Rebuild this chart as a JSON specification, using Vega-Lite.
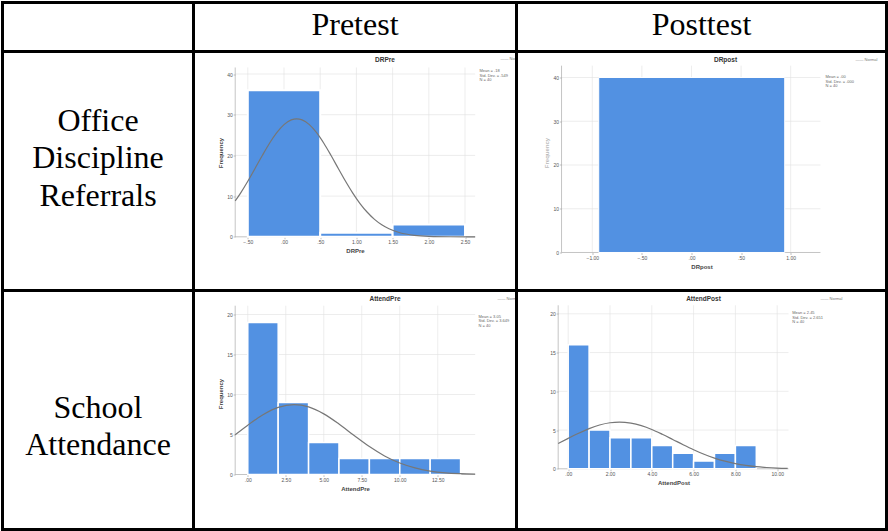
{
  "$schema": "https://vega.github.io/schema/vega-lite/v6.json",
  "background": "white",
  "padding": {"left": 0.5, "top": 0.5, "right": 0, "bottom": 0},
  "autosize": {"type": "pad"},
  "columns": 3,
  "spacing": 0,
  "bounds": "flush",
  "config": {
    "view": {"stroke": "black", "strokeWidth": 3, "fill": "white"},
    "axis": {"domain": false, "grid": false, "ticks": true, "tickSize": 2, "tickColor": "#999999", "tickWidth": 0.6, "labelFontSize": 5, "labelColor": "#555555", "labelFont": "Liberation Sans", "labelPadding": 1, "titleFontSize": 6, "titleFont": "Liberation Sans", "titleFontWeight": "bold", "titleColor": "#444444", "titlePadding": 3},
    "title": {"font": "Liberation Sans", "fontSize": 6.5, "fontWeight": "bold", "color": "#333333", "anchor": "middle"}
  },
  "concat": [
    {"width": 191, "height": 49, "view": {"stroke": "black", "strokeWidth": 3, "fill": "white"}, "data": {"values": [{"label": ""}]}, "mark": {"type": "text", "font": "Liberation Serif", "fontSize": 32}, "encoding": {"text": {"field": "label"}}},
    {"width": 323, "height": 49, "view": {"stroke": "black", "strokeWidth": 3, "fill": "white"}, "data": {"values": [{"label": "Pretest"}]}, "mark": {"type": "text", "font": "Liberation Serif", "fontSize": 32, "baseline": "alphabetic", "dy": 8, "color": "black"}, "encoding": {"text": {"field": "label"}}},
    {"width": 370, "height": 49, "view": {"stroke": "black", "strokeWidth": 3, "fill": "white"}, "data": {"values": [{"label": "Posttest"}]}, "mark": {"type": "text", "font": "Liberation Serif", "fontSize": 32, "baseline": "alphabetic", "dy": 8, "color": "black"}, "encoding": {"text": {"field": "label"}}},
    {"width": 191, "height": 239, "view": {"stroke": "black", "strokeWidth": 3, "fill": "white"}, "data": {"values": [{"label": "Office\nDiscipline\nReferrals"}]}, "mark": {"type": "text", "font": "Liberation Serif", "fontSize": 32, "baseline": "alphabetic", "lineBreak": "\n", "lineHeight": 37.5, "dy": -40.5, "color": "black"}, "encoding": {"text": {"field": "label"}}},
    {
      "width": 323, "height": 239,
      "title": {"text": "DRPre", "offset": -12, "dx": 30},
      "layer": [
        {"data": {"values": [{"x": -0.5}, {"x": 0}, {"x": 0.5}, {"x": 1}, {"x": 1.5}, {"x": 2}, {"x": 2.5}]},
         "mark": {"type": "rule", "color": "#e0e0e0", "strokeWidth": 0.6},
         "encoding": {"x": {"field": "x", "type": "quantitative"}, "y": {"datum": 0, "type": "quantitative"}, "y2": {"datum": 41.6}}},
        {"data": {"values": [{"y": 10}, {"y": 20}, {"y": 30}, {"y": 40}]},
         "mark": {"type": "rule", "color": "#e0e0e0", "strokeWidth": 0.6},
         "encoding": {"y": {"field": "y", "type": "quantitative"}, "x": {"datum": -0.674, "type": "quantitative"}, "x2": {"datum": 2.64}}},
        {"data": {"values": [{}]},
         "mark": {"type": "rule", "color": "#aaaaaa", "strokeWidth": 0.7},
         "encoding": {"x": {"datum": -0.674, "type": "quantitative"}, "x2": {"datum": 2.64}, "y": {"datum": 0, "type": "quantitative"}}},
        {"data": {"values": [{}]},
         "mark": {"type": "rule", "color": "#aaaaaa", "strokeWidth": 0.7},
         "encoding": {"x": {"datum": -0.674, "type": "quantitative"}, "y": {"datum": 0, "type": "quantitative"}, "y2": {"datum": 41.6}}},
        {"data": {"values": [{"x": -0.5, "x2": 0.5, "n": 36}, {"x": 0.5, "x2": 1.5, "n": 1}, {"x": 1.5, "x2": 2.5, "n": 3}]},
         "mark": {"type": "rect", "fill": "#5291e2", "stroke": "white", "strokeWidth": 2},
         "encoding": {
           "x": {"field": "x", "type": "quantitative", "scale": {"domain": [-1.25, 3.211], "nice": false, "zero": false}, "axis": {"values": [-0.5, 0, 0.5, 1, 1.5, 2, 2.5], "labelExpr": "abs(datum.value) < 1 ? replace(format(datum.value, '.2f'), '0.', '.') : format(datum.value, '.2f')", "offset": -53.7, "title": "DRPre"}},
           "x2": {"field": "x2"},
           "y": {"field": "n", "type": "quantitative", "scale": {"domain": [-13.19, 45.53], "nice": false, "zero": false}, "axis": {"values": [0, 10, 20, 30, 40], "offset": -41.7, "title": "Frequency", "titleY": 101}},
           "y2": {"datum": 0}
         }},
        {"data": {"values": [{"x": -0.674, "y": 8.81}, {"x": -0.6, "y": 10.75}, {"x": -0.5, "y": 13.66}, {"x": -0.4, "y": 16.79}, {"x": -0.3, "y": 19.97}, {"x": -0.2, "y": 22.99}, {"x": -0.1, "y": 25.59}, {"x": 0.0, "y": 27.57}, {"x": 0.1, "y": 28.73}, {"x": 0.175, "y": 29.0}, {"x": 0.25, "y": 28.73}, {"x": 0.35, "y": 27.57}, {"x": 0.45, "y": 25.59}, {"x": 0.55, "y": 22.99}, {"x": 0.65, "y": 19.97}, {"x": 0.75, "y": 16.79}, {"x": 0.85, "y": 13.66}, {"x": 0.95, "y": 10.75}, {"x": 1.05, "y": 8.18}, {"x": 1.15, "y": 6.03}, {"x": 1.25, "y": 4.29}, {"x": 1.35, "y": 2.96}, {"x": 1.45, "y": 1.98}, {"x": 1.6, "y": 1.01}, {"x": 1.8, "y": 0.37}, {"x": 2.0, "y": 0.12}, {"x": 2.3, "y": 0.02}, {"x": 2.64, "y": 0.0}]},
         "mark": {"type": "line", "color": "#777777", "strokeWidth": 1.2, "interpolate": "monotone"},
         "encoding": {"x": {"field": "x", "type": "quantitative"}, "y": {"field": "y", "type": "quantitative"}}},
        {"data": {"values": [{"t": "Mean = .18\nStd. Dev. = .549\nN = 40"}]},
         "mark": {"type": "text", "align": "left", "baseline": "top", "fontSize": 4, "lineHeight": 4.5, "lineBreak": "\n", "color": "#666666", "font": "Liberation Sans", "clip": true},
         "encoding": {"x": {"datum": 2.70, "type": "quantitative"}, "y": {"datum": 41.2, "type": "quantitative"}, "text": {"field": "t"}}},
        {"data": {"values": [{"t": "—— Normal"}]},
         "mark": {"type": "text", "align": "left", "baseline": "middle", "fontSize": 4, "color": "#777777", "font": "Liberation Sans", "clip": true},
         "encoding": {"x": {"datum": 2.99, "type": "quantitative"}, "y": {"datum": 43.8, "type": "quantitative"}, "text": {"field": "t"}}}
      ]
    },
    {
      "width": 370, "height": 239,
      "title": {"text": "DRpost", "offset": -12, "dx": 24},
      "layer": [
        {"data": {"values": [{"x": -1}, {"x": -0.5}, {"x": 0}, {"x": 0.5}, {"x": 1}]},
         "mark": {"type": "rule", "color": "#e0e0e0", "strokeWidth": 0.6},
         "encoding": {"x": {"field": "x", "type": "quantitative"}, "y": {"datum": 0, "type": "quantitative"}, "y2": {"datum": 42.7}}},
        {"data": {"values": [{"y": 10}, {"y": 20}, {"y": 30}, {"y": 40}]},
         "mark": {"type": "rule", "color": "#e0e0e0", "strokeWidth": 0.6},
         "encoding": {"y": {"field": "y", "type": "quantitative"}, "x": {"datum": -1.31, "type": "quantitative"}, "x2": {"datum": 1.30}}},
        {"data": {"values": [{}]},
         "mark": {"type": "rule", "color": "#aaaaaa", "strokeWidth": 0.7},
         "encoding": {"x": {"datum": -1.31, "type": "quantitative"}, "x2": {"datum": 1.30}, "y": {"datum": 0, "type": "quantitative"}}},
        {"data": {"values": [{}]},
         "mark": {"type": "rule", "color": "#aaaaaa", "strokeWidth": 0.7},
         "encoding": {"x": {"datum": -1.31, "type": "quantitative"}, "y": {"datum": 0, "type": "quantitative"}, "y2": {"datum": 42.7}}},
        {"data": {"values": [{"x": -0.935, "x2": 0.94, "n": 40}]},
         "mark": {"type": "rect", "fill": "#5291e2", "stroke": "white", "strokeWidth": 1},
         "encoding": {
           "x": {"field": "x", "type": "quantitative", "scale": {"domain": [-1.764, 1.966], "nice": false, "zero": false}, "axis": {"values": [-1, -0.5, 0, 0.5, 1], "labelExpr": "abs(datum.value) < 1 ? replace(format(datum.value, '.2f'), '0.', '.') : format(datum.value, '.2f')", "offset": -38, "title": "DRpost"}},
           "x2": {"field": "x2"},
           "y": {"field": "n", "type": "quantitative", "scale": {"domain": [-8.686, 45.94], "nice": false, "zero": false}, "axis": {"values": [0, 10, 20, 30, 40], "offset": -45, "title": "Frequency", "titleY": 101, "titleColor": "#bbbbbb"}},
           "y2": {"datum": 0}
         }},
        {"data": {"values": [{"t": "Mean = .00\nStd. Dev. = .000\nN = 40"}]},
         "mark": {"type": "text", "align": "left", "baseline": "top", "fontSize": 4, "lineHeight": 4.5, "lineBreak": "\n", "color": "#666666", "font": "Liberation Sans", "clip": true},
         "encoding": {"x": {"datum": 1.351, "type": "quantitative"}, "y": {"datum": 40.5, "type": "quantitative"}, "text": {"field": "t"}}},
        {"data": {"values": [{"t": "—— Normal"}]},
         "mark": {"type": "text", "align": "left", "baseline": "middle", "fontSize": 4, "color": "#777777", "font": "Liberation Sans", "clip": true},
         "encoding": {"x": {"datum": 1.653, "type": "quantitative"}, "y": {"datum": 43.9, "type": "quantitative"}, "text": {"field": "t"}}}
      ]
    },
    {"width": 191, "height": 239, "view": {"stroke": "black", "strokeWidth": 3, "fill": "white"}, "data": {"values": [{"label": "School\nAttendance"}]}, "mark": {"type": "text", "font": "Liberation Serif", "fontSize": 32, "baseline": "alphabetic", "lineBreak": "\n", "lineHeight": 37, "dy": 7.5, "color": "black"}, "encoding": {"text": {"field": "label"}}},
    {
      "width": 323, "height": 239,
      "title": {"text": "AttendPre", "offset": -12, "dx": 30},
      "layer": [
        {"data": {"values": [{"x": 0}, {"x": 2.5}, {"x": 5}, {"x": 7.5}, {"x": 10}, {"x": 12.5}]},
         "mark": {"type": "rule", "color": "#e0e0e0", "strokeWidth": 0.6},
         "encoding": {"x": {"field": "x", "type": "quantitative"}, "y": {"datum": 0, "type": "quantitative"}, "y2": {"datum": 21.1}}},
        {"data": {"values": [{"y": 5}, {"y": 10}, {"y": 15}, {"y": 20}]},
         "mark": {"type": "rule", "color": "#e0e0e0", "strokeWidth": 0.6},
         "encoding": {"y": {"field": "y", "type": "quantitative"}, "x": {"datum": -0.83, "type": "quantitative"}, "x2": {"datum": 14.96}}},
        {"data": {"values": [{}]},
         "mark": {"type": "rule", "color": "#aaaaaa", "strokeWidth": 0.7},
         "encoding": {"x": {"datum": -0.83, "type": "quantitative"}, "x2": {"datum": 14.96}, "y": {"datum": 0, "type": "quantitative"}}},
        {"data": {"values": [{}]},
         "mark": {"type": "rule", "color": "#aaaaaa", "strokeWidth": 0.7},
         "encoding": {"x": {"datum": -0.83, "type": "quantitative"}, "y": {"datum": 0, "type": "quantitative"}, "y2": {"datum": 21.1}}},
        {"data": {"values": [{"x": 0, "x2": 2, "n": 19}, {"x": 2, "x2": 4, "n": 9}, {"x": 4, "x2": 6, "n": 4}, {"x": 6, "x2": 8, "n": 2}, {"x": 8, "x2": 10, "n": 2}, {"x": 10, "x2": 12, "n": 2}, {"x": 12, "x2": 14, "n": 2}]},
         "mark": {"type": "rect", "fill": "#5291e2", "stroke": "white", "strokeWidth": 1.5},
         "encoding": {
           "x": {"field": "x", "type": "quantitative", "scale": {"domain": [-3.572, 17.68], "nice": false, "zero": false}, "axis": {"values": [0, 2.5, 5, 7.5, 10, 12.5], "labelExpr": "abs(datum.value) < 1 ? replace(format(datum.value, '.2f'), '0.', '.') : format(datum.value, '.2f')", "offset": -55, "title": "AttendPre"}},
           "x2": {"field": "x2"},
           "y": {"field": "n", "type": "quantitative", "scale": {"domain": [-6.875, 23.0], "nice": false, "zero": false}, "axis": {"values": [0, 5, 10, 15, 20], "offset": -41.7, "title": "Frequency", "titleY": 103}},
           "y2": {"datum": 0}
         }},
        {"data": {"values": [{"x": -0.83, "y": 4.97}, {"x": 0, "y": 6.17}, {"x": 1, "y": 7.47}, {"x": 2, "y": 8.39}, {"x": 3.05, "y": 8.74}, {"x": 4, "y": 8.45}, {"x": 5, "y": 7.58}, {"x": 6, "y": 6.31}, {"x": 7, "y": 4.87}, {"x": 8, "y": 3.49}, {"x": 9, "y": 2.32}, {"x": 10, "y": 1.43}, {"x": 11, "y": 0.82}, {"x": 12, "y": 0.43}, {"x": 13, "y": 0.21}, {"x": 14, "y": 0.10}, {"x": 14.96, "y": 0.04}]},
         "mark": {"type": "line", "color": "#777777", "strokeWidth": 1.2, "interpolate": "monotone"},
         "encoding": {"x": {"field": "x", "type": "quantitative"}, "y": {"field": "y", "type": "quantitative"}}},
        {"data": {"values": [{"t": "Mean = 3.05\nStd. Dev. = 3.649\nN = 40"}]},
         "mark": {"type": "text", "align": "left", "baseline": "top", "fontSize": 4, "lineHeight": 4.5, "lineBreak": "\n", "color": "#666666", "font": "Liberation Sans", "clip": true},
         "encoding": {"x": {"datum": 15.18, "type": "quantitative"}, "y": {"datum": 20.0, "type": "quantitative"}, "text": {"field": "t"}}},
        {"data": {"values": [{"t": "—— Normal"}]},
         "mark": {"type": "text", "align": "left", "baseline": "middle", "fontSize": 4, "color": "#777777", "font": "Liberation Sans", "clip": true},
         "encoding": {"x": {"datum": 16.43, "type": "quantitative"}, "y": {"datum": 22.0, "type": "quantitative"}, "text": {"field": "t"}}}
      ]
    },
    {
      "width": 370, "height": 239,
      "title": {"text": "AttendPost", "offset": -12, "dx": 2},
      "layer": [
        {"data": {"values": [{"x": 0}, {"x": 2}, {"x": 4}, {"x": 6}, {"x": 8}, {"x": 10}]},
         "mark": {"type": "rule", "color": "#e0e0e0", "strokeWidth": 0.6},
         "encoding": {"x": {"field": "x", "type": "quantitative"}, "y": {"datum": 0, "type": "quantitative"}, "y2": {"datum": 21.1}}},
        {"data": {"values": [{"y": 5}, {"y": 10}, {"y": 15}, {"y": 20}]},
         "mark": {"type": "rule", "color": "#e0e0e0", "strokeWidth": 0.6},
         "encoding": {"y": {"field": "y", "type": "quantitative"}, "x": {"datum": -0.48, "type": "quantitative"}, "x2": {"datum": 10.54}}},
        {"data": {"values": [{}]},
         "mark": {"type": "rule", "color": "#aaaaaa", "strokeWidth": 0.7},
         "encoding": {"x": {"datum": -0.48, "type": "quantitative"}, "x2": {"datum": 10.54}, "y": {"datum": 0, "type": "quantitative"}}},
        {"data": {"values": [{}]},
         "mark": {"type": "rule", "color": "#aaaaaa", "strokeWidth": 0.7},
         "encoding": {"x": {"datum": -0.48, "type": "quantitative"}, "y": {"datum": 0, "type": "quantitative"}, "y2": {"datum": 21.1}}},
        {"data": {"values": [{"x": 0, "x2": 1, "n": 16}, {"x": 1, "x2": 2, "n": 5}, {"x": 2, "x2": 3, "n": 4}, {"x": 3, "x2": 4, "n": 4}, {"x": 4, "x2": 5, "n": 3}, {"x": 5, "x2": 6, "n": 2}, {"x": 6, "x2": 7, "n": 1}, {"x": 7, "x2": 8, "n": 2}, {"x": 8, "x2": 9, "n": 3}]},
         "mark": {"type": "rect", "fill": "#5291e2", "stroke": "white", "strokeWidth": 1.5},
         "encoding": {
           "x": {"field": "x", "type": "quantitative", "scale": {"domain": [-2.474, 15.23], "nice": false, "zero": false}, "axis": {"values": [0, 2, 4, 6, 8, 10], "labelExpr": "abs(datum.value) < 1 ? replace(format(datum.value, '.2f'), '0.', '.') : format(datum.value, '.2f')", "offset": -60.7, "title": "AttendPost", "titleX": 157}},
           "x2": {"field": "x2"},
           "y": {"field": "n", "type": "quantitative", "scale": {"domain": [-7.832, 23.006], "nice": false, "zero": false}, "axis": {"values": [0, 5, 10, 15, 20], "offset": -41.7, "title": " "}},
           "y2": {"datum": 0}
         }},
        {"data": {"values": [{"x": -0.48, "y": 3.27}, {"x": 0, "y": 3.93}, {"x": 0.5, "y": 4.59}, {"x": 1, "y": 5.18}, {"x": 1.5, "y": 5.65}, {"x": 2, "y": 5.94}, {"x": 2.45, "y": 6.02}, {"x": 3, "y": 5.89}, {"x": 3.5, "y": 5.57}, {"x": 4, "y": 5.08}, {"x": 4.5, "y": 4.46}, {"x": 5, "y": 3.79}, {"x": 5.5, "y": 3.11}, {"x": 6, "y": 2.46}, {"x": 6.5, "y": 1.87}, {"x": 7, "y": 1.38}, {"x": 7.5, "y": 0.98}, {"x": 8, "y": 0.67}, {"x": 8.5, "y": 0.44}, {"x": 9, "y": 0.28}, {"x": 9.5, "y": 0.17}, {"x": 10, "y": 0.10}, {"x": 10.5, "y": 0.06}]},
         "mark": {"type": "line", "color": "#777777", "strokeWidth": 1.2, "interpolate": "monotone"},
         "encoding": {"x": {"field": "x", "type": "quantitative"}, "y": {"field": "y", "type": "quantitative"}}},
        {"data": {"values": [{"t": "Mean = 2.45\nStd. Dev. = 2.651\nN = 40"}]},
         "mark": {"type": "text", "align": "left", "baseline": "top", "fontSize": 4, "lineHeight": 4.5, "lineBreak": "\n", "color": "#666666", "font": "Liberation Sans", "clip": true},
         "encoding": {"x": {"datum": 10.72, "type": "quantitative"}, "y": {"datum": 20.3, "type": "quantitative"}, "text": {"field": "t"}}},
        {"data": {"values": [{"t": "—— Normal"}]},
         "mark": {"type": "text", "align": "left", "baseline": "middle", "fontSize": 4, "color": "#777777", "font": "Liberation Sans", "clip": true},
         "encoding": {"x": {"datum": 12.07, "type": "quantitative"}, "y": {"datum": 21.9, "type": "quantitative"}, "text": {"field": "t"}}}
      ]
    }
  ]
}
